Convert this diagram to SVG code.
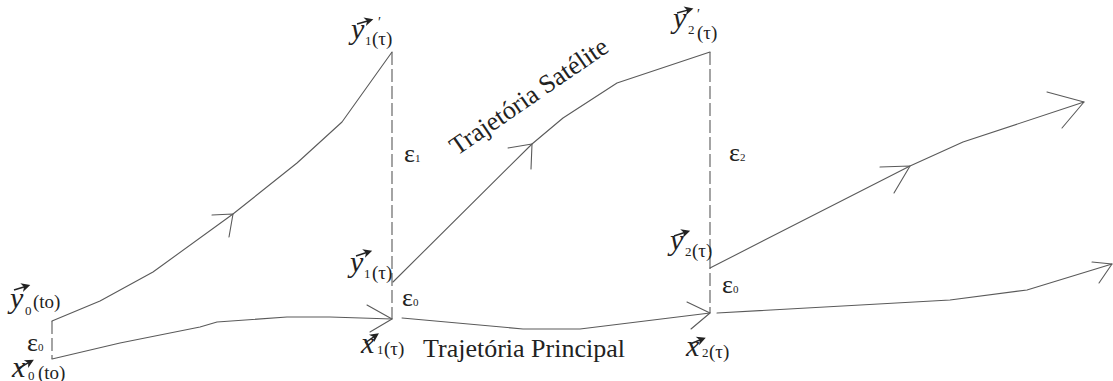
<svg xmlns="http://www.w3.org/2000/svg" width="1113" height="381" viewBox="0 0 1113 381">
<style>
.ln{fill:none;stroke:#5a5a5a;stroke-width:1.1;stroke-linejoin:round;stroke-linecap:round}
.ds{fill:none;stroke:#5a5a5a;stroke-width:1.1;stroke-dasharray:13 4}
.t{font-family:"Liberation Serif","Times New Roman",serif;fill:#222}
.v{font-style:italic;font-size:30px}
.sb{font-size:13px}
.pr{font-size:19px}
.ep{font-size:26px}
.es{font-size:11px}
.big{font-size:26px}
</style>
<defs>
<g id="vec"><path d="M0,0 L12,0" stroke="#222" stroke-width="1.5"/><path d="M8,-4.5 L17,0 L8,4.5 L10.5,0 Z" fill="#222"/></g>
</defs>
<rect width="1113" height="381" fill="#fff"/>
<g id="connectors">
<path class="ds" d="M52,321 L52,359"/>
<path class="ds" d="M392,52 L392,319"/>
<path class="ds" d="M710,52 L710,313"/>
<path class="ln" d="M52,321 L100,301 L153,272 L233,214 L297,163 L342,122 L392,52"/>
<path class="ln" d="M212,215 L233,214 L229,237"/>
<path class="ln" d="M52,359 L120,343 L200,327 L217,322 L287,317 L330,317 L392,319"/>
<path class="ln" d="M367,305 L392,319 L370,332"/>
<path class="ln" d="M393,282 L532,144 L563,118 L617,83 L710,52"/>
<path class="ln" d="M508,148 L532,144 L531,169"/>
<path class="ln" d="M402,318 L523,329 L580,329 L710,313"/>
<path class="ln" d="M687,302 L710,313 L691,329"/>
<path class="ln" d="M710,268 L910,166 L963,142 L1084,102"/>
<path class="ln" d="M880,167 L910,166 L894,193"/>
<path class="ln" d="M1047,92 L1084,102 L1062,128"/>
<path class="ln" d="M717,313 L950,300 L1027,290 L1112,264"/>
<path class="ln" d="M1092,262 L1112,264 L1099,283"/>
</g>
<g id="node-y0">
<use href="#vec" transform="translate(14,290) rotate(-17)"/>
<text class="t v" x="10" y="308">y</text>
<text class="t sb" x="25" y="315">0</text>
<text class="t pr" x="33" y="308">(to)</text>
</g>
<g id="node-x0">
<use href="#vec" transform="translate(19,368) rotate(-29)"/>
<text class="t v" x="12" y="377">x</text>
<text class="t sb" x="28" y="380">0</text>
<text class="t pr" x="38" y="379">(to)</text>
</g>
<g id="label-e0-a">
<text class="t ep" x="27" y="351">ε</text><text class="t es" x="38" y="351">0</text>
</g>
<g id="node-y1p">
<use href="#vec" transform="translate(357,24) rotate(-16)"/>
<text class="t" x="378" y="27" font-size="14">′</text>
<text class="t v" x="351" y="39">y</text>
<text class="t sb" x="365" y="45">1</text>
<text class="t pr" x="372" y="45">(τ)</text>
</g>
<g id="label-e1">
<text class="t ep" x="404" y="162">ε</text><text class="t es" x="415" y="162">1</text>
</g>
<g id="node-y1">
<use href="#vec" transform="translate(356,256) rotate(-18)"/>
<text class="t v" x="350" y="272">y</text>
<text class="t sb" x="364" y="278">1</text>
<text class="t pr" x="372" y="279">(τ)</text>
</g>
<g id="label-e0-b">
<text class="t ep" x="402" y="306">ε</text><text class="t es" x="413" y="306">0</text>
</g>
<g id="node-x1">
<use href="#vec" transform="translate(365,343) rotate(-35)"/>
<text class="t v" x="361" y="353">x</text>
<text class="t sb" x="377" y="354">1</text>
<text class="t pr" x="384" y="355">(τ)</text>
</g>
<g id="label-principal">
<text class="t big" x="423" y="357">Trajetória Principal</text>
</g>
<g id="label-satelite">
<text class="t big" transform="translate(457,156) rotate(-34.5)">Trajetória Satélite</text>
</g>
<g id="node-y2p">
<use href="#vec" transform="translate(677,13) rotate(-15)"/>
<text class="t" x="697" y="19" font-size="14">′</text>
<text class="t v" x="673" y="28">y</text>
<text class="t sb" x="688" y="34">2</text>
<text class="t pr" x="697" y="39">(τ)</text>
</g>
<g id="label-e2">
<text class="t ep" x="729" y="161">ε</text><text class="t es" x="740" y="161">2</text>
</g>
<g id="node-y2">
<use href="#vec" transform="translate(674,236) rotate(-18)"/>
<text class="t v" x="670" y="250">y</text>
<text class="t sb" x="685" y="256">2</text>
<text class="t pr" x="692" y="257">(τ)</text>
</g>
<g id="label-e0-c">
<text class="t ep" x="722" y="293">ε</text><text class="t es" x="733" y="293">0</text>
</g>
<g id="node-x2">
<use href="#vec" transform="translate(690,344) rotate(-22)"/>
<text class="t v" x="686" y="356">x</text>
<text class="t sb" x="702" y="357">2</text>
<text class="t pr" x="709" y="358">(τ)</text>
</g>
</svg>
